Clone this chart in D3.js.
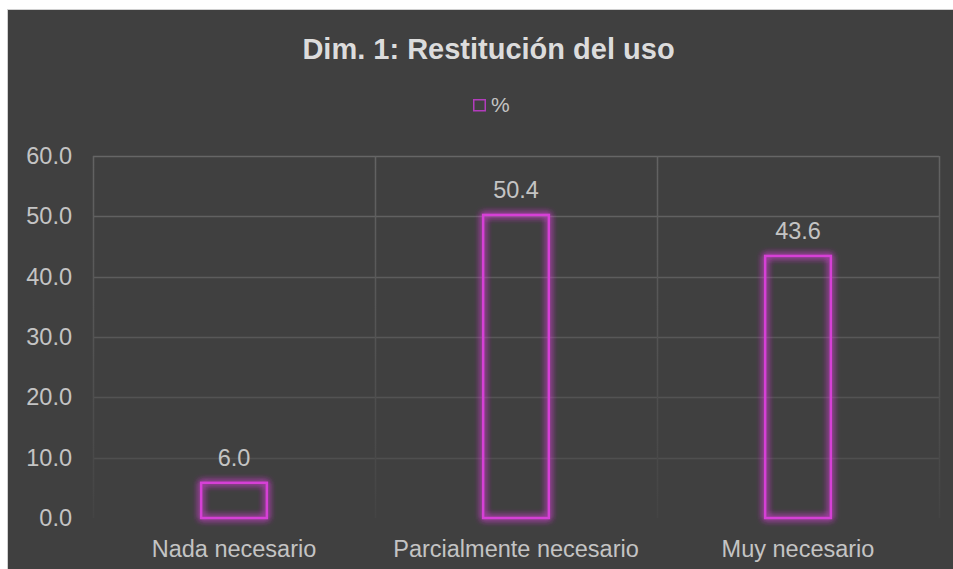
<!DOCTYPE html>
<html>
<head>
<meta charset="utf-8">
<script src="https://cdn.jsdelivr.net/npm/d3@7"></script>
<style>
  body { margin: 0; background: #fff; }
  text { font-family: "Liberation Sans", Arial, sans-serif; }
</style>
</head>
<body>
<script>
// Data
const categories = ["Nada necesario", "Parcialmente necesario", "Muy necesario"];
const values = [6.0, 50.4, 43.6];
const yTicks = [0, 10, 20, 30, 40, 50, 60];
const seriesName = "%";
const title = "Dim. 1: Restitución del uso";

const W = 953, H = 569;
const margin = {left: 93, right: 14, top: 156, bottom: 51};
const barColor = "#d63fd6";
const labelColor = "#c4c4c4";
const labelSize = 23.5;

const svg = d3.select("body").append("svg")
    .attr("width", W)
    .attr("height", H);

const defs = svg.append("defs");

// Glow around the bar outlines
const glow = defs.append("filter")
    .attr("id", "glow")
    .attr("x", "-30%").attr("y", "-30%")
    .attr("width", "160%").attr("height", "160%");
glow.append("feGaussianBlur")
    .attr("in", "SourceGraphic")
    .attr("stdDeviation", 3.5)
    .attr("result", "blur");
const merge = glow.append("feMerge");
merge.append("feMergeNode").attr("in", "blur");
merge.append("feMergeNode").attr("in", "blur");
merge.append("feMergeNode").attr("in", "SourceGraphic");

// Gridlines fade out towards the bottom
const fade = defs.append("linearGradient")
    .attr("id", "fade")
    .attr("gradientUnits", "userSpaceOnUse")
    .attr("x1", 0).attr("x2", 0)
    .attr("y1", margin.top).attr("y2", H - margin.bottom);
fade.append("stop").attr("offset", "0%").attr("stop-color", "#636363");
fade.append("stop").attr("offset", "100%").attr("stop-color", "#444444");

// chart frame
svg.append("rect")
    .attr("x", 7.5).attr("y", 9.5)
    .attr("width", W - 7).attr("height", H - 9)
    .attr("fill", "#404040")
    .attr("stroke", "#d0d0d0")
    .attr("stroke-width", 1);

const x = d3.scaleBand()
    .domain(categories)
    .range([margin.left, W - margin.right])
    .paddingInner(0.76)
    .paddingOuter(0.38);

const y = d3.scaleLinear()
    .domain([0, 60])
    .range([H - margin.bottom, margin.top]);

const bandStart = margin.left;

// horizontal gridlines
svg.append("g")
    .selectAll("line")
    .data(yTicks.filter(d => d > 0))
    .enter().append("line")
    .attr("x1", bandStart)
    .attr("x2", W - margin.right)
    .attr("y1", d => Math.round(y(d)) + 0.5)
    .attr("y2", d => Math.round(y(d)) + 0.5)
    .attr("stroke", d => d3.interpolateRgb("#4a4a4a", "#666666")(d / 60))
    .attr("stroke-width", 1.5);

// vertical gridlines between categories
svg.append("g")
    .selectAll("line")
    .data(d3.range(categories.length + 1))
    .enter().append("line")
    .attr("x1", i => Math.round(bandStart + i * (W - margin.right - margin.left) / categories.length) + 0.5)
    .attr("x2", i => Math.round(bandStart + i * (W - margin.right - margin.left) / categories.length) + 0.5)
    .attr("y1", y(60))
    .attr("y2", y(0))
    .attr("stroke", "url(#fade)")
    .attr("stroke-width", 1.5);

// y axis labels
const yAxis = svg.append("g")
    .attr("transform", "translate(" + (margin.left - 21) + ",0)")
    .call(d3.axisLeft(y).tickValues(yTicks).tickSize(0).tickPadding(0).tickFormat(d3.format(".1f")));
yAxis.select(".domain").remove();
yAxis.selectAll("text")
    .attr("fill", labelColor)
    .attr("font-size", labelSize)
    .style("font-family", "'Liberation Sans', Arial, sans-serif");

// x axis labels
const xAxis = svg.append("g")
    .attr("transform", "translate(0," + (H - margin.bottom) + ")")
    .call(d3.axisBottom(x).tickSize(0).tickPadding(22));
xAxis.select(".domain").remove();
xAxis.selectAll("text")
    .attr("fill", labelColor)
    .attr("font-size", labelSize)
    .style("font-family", "'Liberation Sans', Arial, sans-serif");

// bars
const bars = svg.append("g").selectAll("g")
    .data(values)
    .enter().append("g");

bars.append("rect")
    .attr("x", (d, i) => x(categories[i]) + 1)
    .attr("y", d => y(d) + 1)
    .attr("width", x.bandwidth() - 2)
    .attr("height", d => y(0) - y(d) - 1)
    .attr("fill", "none")
    .attr("stroke", barColor)
    .attr("stroke-width", 2.5)
    .attr("filter", "url(#glow)");

// data labels
bars.append("text")
    .attr("x", (d, i) => x(categories[i]) + x.bandwidth() / 2)
    .attr("y", d => y(d) - 16)
    .attr("text-anchor", "middle")
    .attr("fill", labelColor)
    .attr("font-size", labelSize)
    .text(d => d3.format(".1f")(d));

// title
svg.append("text")
    .attr("x", 488.5)
    .attr("y", 59)
    .attr("text-anchor", "middle")
    .attr("fill", "#dcdcdc")
    .attr("font-size", 29)
    .attr("font-weight", "bold")
    .text(title);

// legend
const legend = svg.append("g").attr("transform", "translate(473,99)");
legend.append("rect")
    .attr("x", 0.75).attr("y", 0.75)
    .attr("width", 11.5).attr("height", 11)
    .attr("fill", "none")
    .attr("stroke", "#b23cbc")
    .attr("stroke-width", 1.5);
legend.append("text")
    .attr("x", 18)
    .attr("y", 13)
    .attr("fill", labelColor)
    .attr("font-size", 21)
    .text(seriesName);
</script>
</body>
</html>
